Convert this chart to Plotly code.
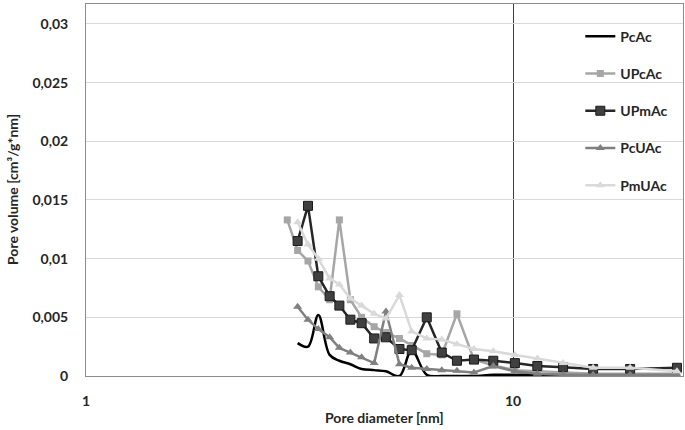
import plotly.graph_objects as go

# Pore diameter [nm] (common BJH points)
diam = [2.96, 3.13, 3.31, 3.50, 3.72, 3.92, 4.16, 4.42, 4.73, 5.04, 5.42, 5.79,
        6.28, 6.81, 7.39, 8.10, 8.99, 10.1, 11.4, 13.1, 15.4, 18.8, 24.2]

pcac = [None, 0.0028, 0.0025, 0.0052, 0.0018, 0.0013, 0.0010, 0.0006, 0.0005, 0.0004,
        0.0000, 0.0022, 0.0001, 0.0000, 0.0000, 0.0000, 0.0001, 0.0001, 0.0001, 0.0001,
        0.0001, 0.0001, 0.0001]
upcac = [0.0133, 0.0107, 0.0098, 0.0076, 0.0065, 0.0133, 0.0065, 0.0050, 0.0042, 0.0037,
         0.0032, 0.0026, 0.0019, 0.0018, 0.0053, 0.0014, 0.0009, 0.0005, 0.0004, 0.0003,
         0.0002, 0.0002, 0.0002]
upmac = [None, 0.0115, 0.0145, 0.0085, 0.0068, 0.0060, 0.0048, 0.0045, 0.0032, 0.0033,
         0.0023, 0.0022, 0.0050, 0.0020, 0.0013, 0.0014, 0.0013, 0.0011, 0.00085, 0.00075,
         0.0006, 0.0006, 0.0007]
pcuac = [None, 0.0059, 0.0048, 0.0040, 0.0033, 0.0024, 0.0020, 0.0016, 0.0011, 0.0055,
         0.0010, 0.0007, 0.0006, 0.0005, 0.00045, 0.0003, 0.00085, 0.0004, 0.0002, 0.0001,
         0.0001, 0.0001, 0.0001]
pmuac = [None, 0.0131, 0.0112, 0.0100, 0.0083, 0.0078, 0.0066, 0.0060, 0.0053, 0.0049,
         0.0069, 0.0038, 0.0032, 0.0031, 0.0027, 0.0023, 0.0021, 0.0018, 0.0015, 0.0011,
         0.0007, 0.0007, 0.0004]

y_ticks = [0, 0.005, 0.01, 0.015, 0.02, 0.025, 0.03]
y_labels = ["0", "0,005", "0,01", "0,015", "0,02", "0,025", "0,03"]
x_ticks = [1, 10]
x_labels = ["1", "10"]

FONT = "Lato"
TXT = "#262626"
BOLD14 = dict(family=FONT, size=14, color=TXT, weight="bold")

fig = go.Figure()

series = [
    ("PcAc", pcac, dict(color="#000000", width=2.5, shape="spline"), None),
    ("UPcAc", upcac, dict(color="#a6a6a6", width=2.5),
     dict(symbol="square", size=7, color="#a6a6a6")),
    ("UPmAc", upmac, dict(color="#262626", width=2.5),
     dict(symbol="square", size=9, color="#404040", line=dict(color="#1a1a1a", width=1))),
    ("PcUAc", pcuac, dict(color="#808080", width=2.5),
     dict(symbol="triangle-up", size=8, color="#808080")),
    ("PmUAc", pmuac, dict(color="#d9d9d9", width=2.5),
     dict(symbol="triangle-up", size=8, color="#d9d9d9")),
]

for name, vals, line, marker in series:
    fig.add_trace(go.Scatter(
        x=diam, y=vals, name=name, legendgroup=name,
        mode="lines" if marker is None else "lines+markers",
        line=line, marker=marker, connectgaps=False,
    ))

fig.update_layout(
    width=685, height=430,
    margin=dict(l=86, r=2, t=4, b=54, autoexpand=False),
    paper_bgcolor="white", plot_bgcolor="white",
    font=dict(family=FONT, size=13, color=TXT),
    showlegend=True,
    legend=dict(
        x=0.828, y=0.955, xanchor="left", yanchor="top",
        bgcolor="rgba(0,0,0,0)", tracegroupgap=16,
        font=BOLD14, itemwidth=30,
    ),
    annotations=[
        dict(text="Pore diameter [nm]", xref="paper", yref="paper",
             x=0.5, y=0, yshift=-41, showarrow=False, font=BOLD14,
             xanchor="center", yanchor="middle"),
        dict(text="Pore volume [cm³/g*nm]", xref="paper", yref="paper",
             x=0, y=0.5, xshift=-74, showarrow=False, font=BOLD14,
             textangle=-90, xanchor="center", yanchor="middle"),
    ],
)

fig.update_xaxes(
    type="log", range=[0, 1.398], automargin=False,
    tickvals=x_ticks, ticktext=x_labels,
    showgrid=True, gridcolor="#404040", gridwidth=1,
    showline=True, linecolor="#8c8c8c", linewidth=1, mirror=True,
    ticks="", ticklabelstandoff=12,
    tickfont=BOLD14, zeroline=False,
)
fig.update_yaxes(
    range=[0, 0.0317], automargin=False,
    tickvals=y_ticks, ticktext=y_labels,
    showgrid=True, gridcolor="#d9d9d9", gridwidth=1,
    showline=True, linecolor="#8c8c8c", linewidth=1, mirror=True,
    ticks="", ticklabelstandoff=14,
    tickfont=BOLD14, zeroline=False,
)

fig.write_html(
    "out.html",
    config={"displayModeBar": False},
    post_script="document.body.style.margin='0';document.body.style.padding='0';",
)
